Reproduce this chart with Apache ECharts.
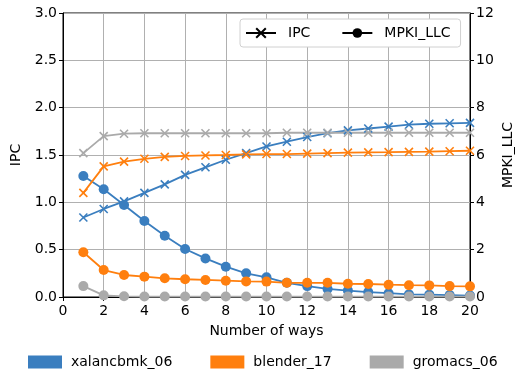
<!DOCTYPE html>
<html><head><meta charset="utf-8">
<script src="https://cdn.jsdelivr.net/npm/echarts@6/dist/echarts.min.js"></script>
<style>html,body{margin:0;padding:0;background:#fff}#c{width:517px;height:371px}</style>
</head><body><div id="c"></div>
<script>
const ways = [1,2,3,4,5,6,7,8,9,10,11,12,13,14,15,16,17,18,19,20];
const ipcXalanc = [0.84,0.93,1.01,1.10,1.19,1.29,1.37,1.45,1.52,1.59,1.64,1.69,1.73,1.76,1.78,1.80,1.82,1.83,1.835,1.84];
const ipcBlender = [1.10,1.38,1.43,1.46,1.48,1.49,1.495,1.50,1.507,1.51,1.51,1.515,1.52,1.525,1.528,1.53,1.533,1.535,1.54,1.545];
const ipcGromacs = [1.52,1.70,1.725,1.73,1.73,1.73,1.73,1.73,1.73,1.73,1.735,1.735,1.735,1.735,1.735,1.735,1.735,1.735,1.735,1.735];
const mpkiXalanc = [5.11,4.55,3.89,3.21,2.59,2.03,1.63,1.28,1.00,0.83,0.60,0.46,0.34,0.27,0.21,0.16,0.11,0.10,0.08,0.06];
const mpkiBlender = [1.89,1.14,0.93,0.86,0.79,0.75,0.72,0.69,0.66,0.65,0.60,0.60,0.60,0.56,0.55,0.52,0.50,0.49,0.46,0.45];
const mpkiGromacs = [0.46,0.07,0.03,0.02,0.02,0.02,0.02,0.02,0.02,0.02,0.02,0.02,0.02,0.02,0.02,0.02,0.02,0.02,0.02,0.02];
const benchNames = ['xalancbmk_06','blender_17','gromacs_06'];
const colors = ['#3a7ebf','#ff7f0e','#aaaaaa'];

const font = 'DejaVu Sans';
const fs = 14;
const xMark = 'path://M0,0L10,10M10,0L0,10';
const pair = arr => ways.map((w,i)=>[w,arr[i]]);
const ipcAll = [ipcXalanc, ipcBlender, ipcGromacs];
const mpkiAll = [mpkiXalanc, mpkiBlender, mpkiGromacs];

const series = [];
benchNames.forEach((n,k)=>{
  series.push({name:n,type:'line',yAxisIndex:0,data:pair(ipcAll[k]),symbol:xMark,symbolSize:8,
    lineStyle:{color:colors[k],width:1.8},itemStyle:{color:colors[k],borderColor:colors[k],borderWidth:1.6},z:3});
  series.push({name:n,type:'line',yAxisIndex:1,data:pair(mpkiAll[k]),symbol:'circle',symbolSize:10,
    lineStyle:{color:colors[k],width:1.8},itemStyle:{color:colors[k],borderWidth:0},z:3});
});
series.push({name:'IPC',type:'line',yAxisIndex:0,data:[],symbol:xMark,symbolSize:9,
  lineStyle:{color:'#000',width:1.8},itemStyle:{color:'#000',borderColor:'#000',borderWidth:1.6}});
series.push({name:'MPKI_LLC',type:'line',yAxisIndex:1,data:[],symbol:'circle',symbolSize:10,
  lineStyle:{color:'#000',width:1.8},itemStyle:{color:'#000'}});

const axisText = {fontFamily:font,fontSize:fs,color:'#000'};
const chart = echarts.init(document.getElementById('c'));
chart.setOption({
  animation:false,
  textStyle:{fontFamily:font},
  grid:{left:63,right:47,top:13,bottom:74,show:true,borderColor:'#000',borderWidth:1,outerBoundsMode:'none',containLabel:false},
  legend:[
    {data:['IPC','MPKI_LLC'],top:19,left:240,itemWidth:30,itemHeight:12,itemGap:31,
     backgroundColor:'#fff',borderColor:'#d0d0d0',borderWidth:1,borderRadius:3,padding:[7,10,7,5],
     textStyle:{fontFamily:font,fontSize:fs,color:'#000',padding:[0,0,0,7]}},
    {data:benchNames,top:350,left:23,icon:'rect',itemWidth:32,itemHeight:11,itemGap:38,
     textStyle:{fontFamily:font,fontSize:fs,color:'#000',padding:[0,0,0,5]}}
  ],
  xAxis:{type:'value',min:0,max:20,interval:2,name:'Number of ways',nameLocation:'middle',nameGap:27,
    nameTextStyle:axisText,nameMoveOverlap:false,
    axisLine:{lineStyle:{color:'#000'}},axisTick:{show:true,length:4,lineStyle:{color:'#000'}},
    axisLabel:Object.assign({margin:7},axisText),
    splitLine:{show:true,lineStyle:{color:'#b0b0b0',width:1}}},
  yAxis:[
    {type:'value',min:0,max:3,interval:0.5,name:'IPC',nameLocation:'middle',nameGap:40,
     nameTextStyle:axisText,nameMoveOverlap:false,
     axisLine:{show:true,lineStyle:{color:'#000'}},axisTick:{show:true,length:4,lineStyle:{color:'#000'}},
     axisLabel:Object.assign({margin:6,formatter:v=>v.toFixed(1)},axisText),
     splitLine:{show:true,lineStyle:{color:'#b0b0b0',width:1}}},
    {type:'value',min:0,max:12,interval:2,name:'MPKI_LLC',nameLocation:'middle',nameGap:31,nameRotate:90,
     position:'right',nameMoveOverlap:false,
     nameTextStyle:axisText,
     axisLine:{show:true,lineStyle:{color:'#000'}},axisTick:{show:true,length:4,lineStyle:{color:'#000'}},
     axisLabel:Object.assign({margin:6},axisText),
     splitLine:{show:false}}
  ],
  series:series
});
</script></body></html>
